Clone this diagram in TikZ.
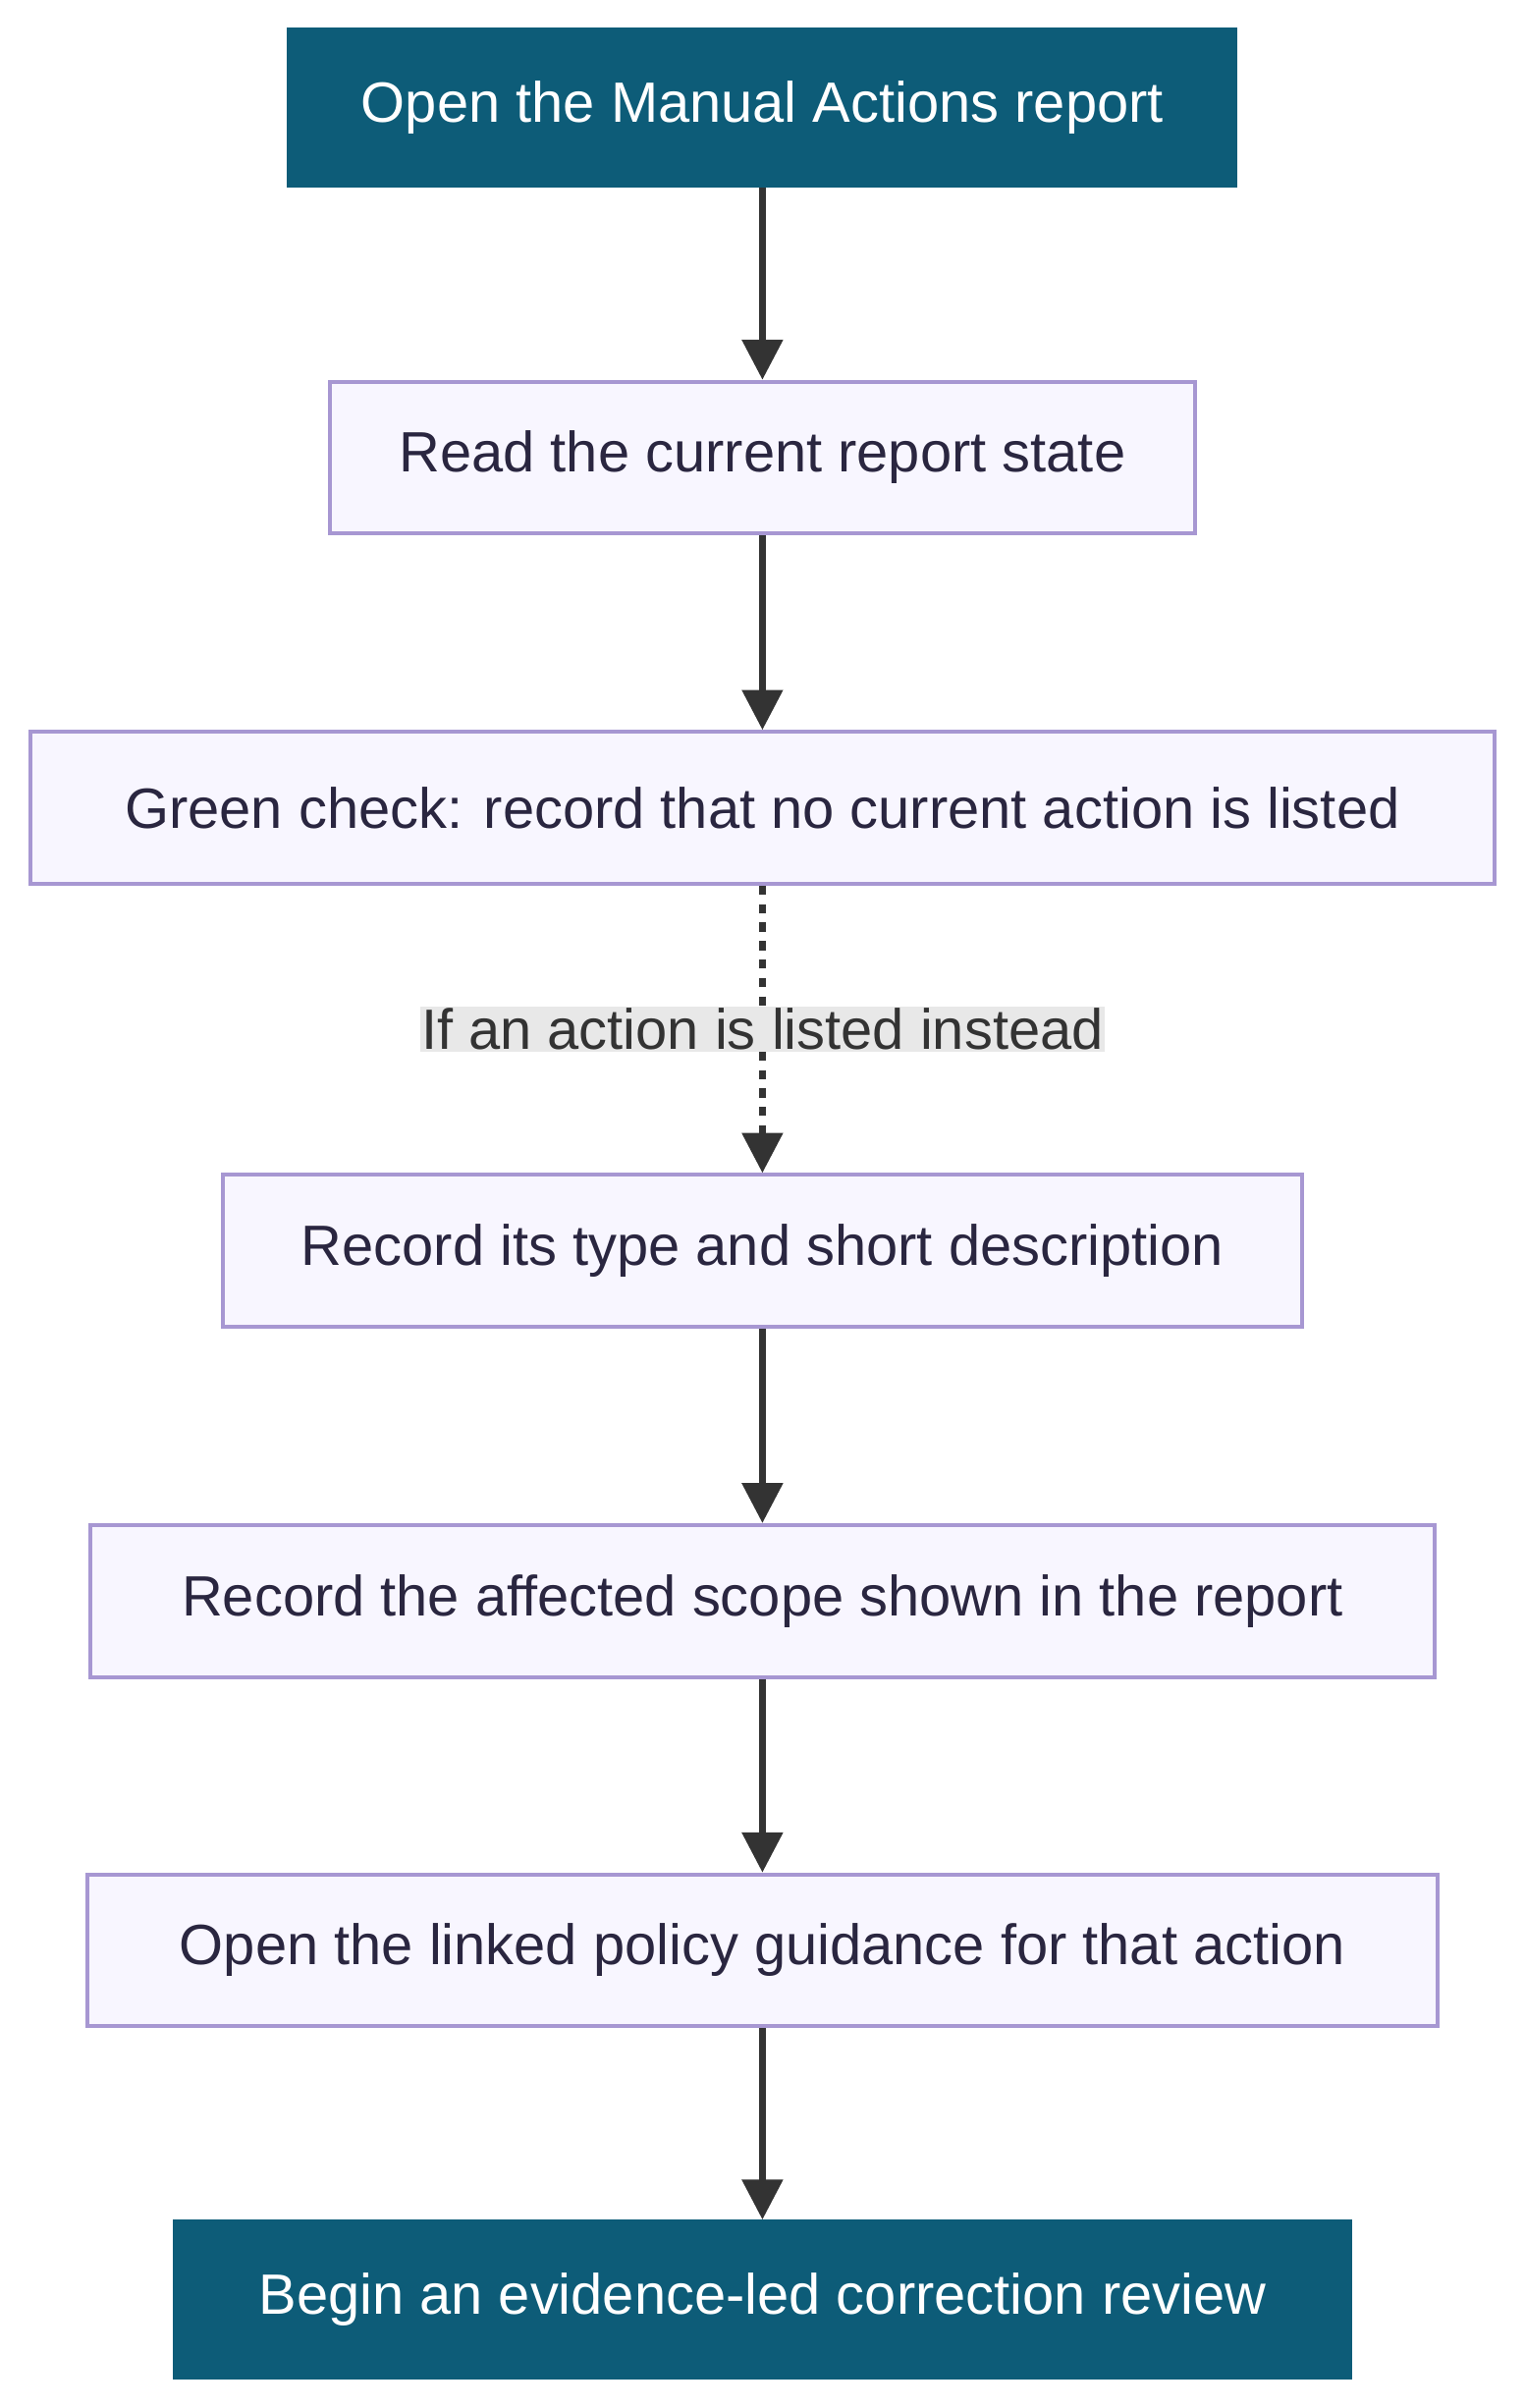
\documentclass[tikz,border=0pt]{standalone}
\usepackage{fontspec}
\setmainfont{Liberation Sans}
\usetikzlibrary{arrows.meta}
\definecolor{stepfill}{HTML}{F8F6FF}
\definecolor{stepline}{HTML}{A797D2}
\definecolor{endfill}{HTML}{0D5C78}
\definecolor{flowline}{HTML}{333333}
\definecolor{labelbg}{HTML}{E8E8E8}
\definecolor{steptext}{HTML}{2A2640}
\begin{document}
\begin{tikzpicture}[x=1pt,y=-1pt,
    stepbox/.style={draw=stepline, fill=stepfill, line width=2.5pt, text=steptext, minimum height=99pt, inner sep=0pt},
    terminal/.style={fill=endfill, text=white, minimum height=104pt, inner sep=0pt},
    flow/.style={draw=flowline, line width=4pt, -{Triangle[length=26pt,width=26pt]}},
    every node/.style={font=\fontsize{37}{44}\selectfont}]
    \useasboundingbox (0,0) rectangle (993,1568);
    % Terminals
    \node[terminal, minimum width=619pt] (Step-1) at (496.5,70) {Open the Manual Actions report};
    \node[terminal, minimum width=768pt] (Step-7) at (496.5,1497.5) {Begin an evidence-led correction review};
    % Steps
    \foreach \name/\w/\y/\i in {Read the current report state/563/298/2,
        Green check: record that no current action is listed/953/526/3,
        Record its type and short description/703/814.5/4,
        Record the affected scope shown in the report/875/1042.5/5,
        Open the linked policy guidance for that action/879/1270/6} {
        \node[stepbox, minimum width=\w pt] (Step-\i) at (496.5,\y) {\name};
    }
    % Arrows
    \foreach \i/\j in {1/2,2/3,4/5,5/6,6/7} {
        \draw[flow] (Step-\i) -- (Step-\j);
    }
    \draw[flow, dash pattern=on 6pt off 6pt] (Step-3) -- node[fill=labelbg, text=flowline, inner sep=1pt] {If an action is listed instead} (Step-4);
\end{tikzpicture}
\end{document}
